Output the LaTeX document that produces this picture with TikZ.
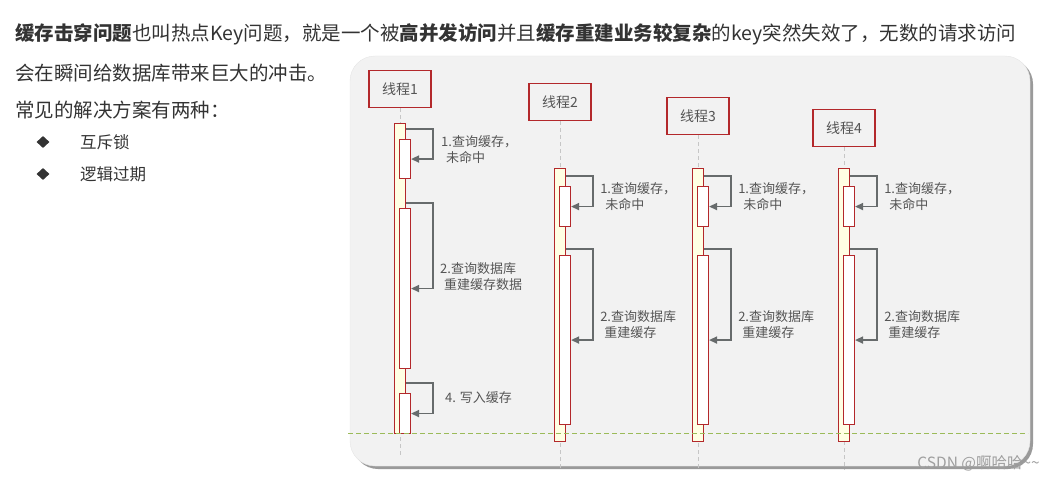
\documentclass[tikz,border=0pt]{standalone}
\usepackage{fontspec}
\setmainfont{Noto Sans CJK SC}
\usetikzlibrary{arrows.meta,shapes.geometric}

\definecolor{panelgray}{HTML}{F2F2F2}
\definecolor{shadowgray}{HTML}{9A9A9A}
\definecolor{barred}{HTML}{B3282B}
\definecolor{baryellow}{HTML}{FFFFE3}
\definecolor{loopgray}{HTML}{676B6C}
\definecolor{labelgray}{HTML}{555555}
\definecolor{textgray}{HTML}{333333}
\definecolor{lineolive}{HTML}{9BBB59}

\tikzset{
  thread/.style={draw=barred, line width=1.3pt, fill=panelgray, minimum width=62pt,
    minimum height=37pt, inner sep=0pt, anchor=north, text=labelgray,
    font=\fontsize{14}{16}\selectfont},
  lifeline/.style={draw=gray!45, line width=0.9pt, dash pattern=on 4pt off 3pt},
  bar/.style={draw=barred, line width=1.1pt, fill=baryellow, minimum width=11pt,
    inner sep=0pt, anchor=north},
  act/.style={draw=barred, line width=1.1pt, fill=white, minimum width=11pt,
    inner sep=0pt, anchor=north},
  selfmsg/.style={draw=loopgray, line width=1.6pt, -{Triangle[length=8pt,width=7pt]}},
  msglabel/.style={anchor=north west, align=left, inner sep=0pt, text=labelgray,
    font=\fontsize{13}{16}\selectfont},
  intro/.style={anchor=west, inner sep=0pt, text=textgray,
    font=\fontsize{19.5}{22}\selectfont},
}

\begin{document}
\begin{tikzpicture}[x=1pt, y=-1pt]
\useasboundingbox (0,0) rectangle (1054,481);

% Draw the text on the left
\node[intro] (line1) at (15,34) {\textbf{缓存击穿问题}也叫热点Key问题，就是一个被\textbf{高并发访问}并且\textbf{缓存重建业务较复杂}的key突然失效了，无数的请求访问};
\node[intro] (line2) at (15,73) {会在瞬间给数据库带来巨大的冲击。};
\node[intro] (line3) at (15,110) {常见的解决方案有两种：};
\node[diamond, fill=textgray, minimum width=13pt, minimum height=12pt, inner sep=0pt] (dot1) at (43,142) {};
\node[intro, font=\fontsize{16.5}{20}\selectfont] (way1) at (80,142) {互斥锁};
\node[diamond, fill=textgray, minimum width=13pt, minimum height=12pt, inner sep=0pt] (dot2) at (43,174) {};
\node[intro, font=\fontsize{16.5}{20}\selectfont] (way2) at (80,174) {逻辑过期};

% Draw the panel
\fill[shadowgray, rounded corners=25pt] (353,59) rectangle (1033,469);
\fill[panelgray, draw=gray!20, rounded corners=25pt] (350,56) rectangle (1030,466);

% Draw the threads and lifelines
\node[thread] (th1) at (400,70) {线程1};
\node[thread] (th2) at (560,83) {线程2};
\node[thread] (th3) at (698,97) {线程3};
\node[thread] (th4) at (844,109) {线程4};
\draw[lifeline] (th1.south) -- (th1.south |- 0,455);
\foreach \i in {2,3,4}
  \draw[lifeline] (th\i.south) -- (th\i.south |- 0,470);

% Thread 1
\node[bar, minimum height=310pt] (bar1) at (400,123) {};
\node[act, minimum height=39pt] (a11) at (405,139) {};
\node[act, minimum height=160pt] (a12) at (405,208) {};
\node[act, minimum height=40pt] (a14) at (405,393) {};
\draw[selfmsg] (bar1.east |- 0,129) -- ++(27,0) |- (a11.east);
\draw[selfmsg] (bar1.east |- 0,203) -- ++(27,0) |- (a12.east);
\draw[selfmsg] (bar1.east |- 0,383) -- ++(27,0) |- (a14.east);
\node[msglabel] (m11) at (441,135) {1.查询缓存，\\\hspace*{5pt}未命中};
\node[msglabel] (m12) at (440,262) {2.查询数据库\\\hspace*{4pt}重建缓存数据};
\node[msglabel] (m14) at (445,391) {4. 写入缓存};

% Threads 2 to 4
\foreach \i in {2,3,4} {
  \node[bar, minimum height=273pt] (bar\i) at (th\i.south |- 0,168) {};
  \node[act, minimum height=40pt] (a\i1) at ([xshift=5pt]bar\i.north |- 0,186) {};
  \node[act, minimum height=169pt] (a\i2) at ([xshift=5pt]bar\i.north |- 0,255) {};
  \draw[selfmsg] (bar\i.east |- 0,176) -- ++(27,0) coordinate (r\i) |- (a\i1.east);
  \draw[selfmsg] (bar\i.east |- 0,249) -- ++(27,0) |- (a\i2.east);
  \node[msglabel] (m\i1) at ([xshift=7pt]r\i |- 0,182) {1.查询缓存，\\\hspace*{5pt}未命中};
  \node[msglabel] (m\i2) at ([xshift=7pt]r\i |- 0,310) {2.查询数据库\\\hspace*{4pt}重建缓存};
}

% Draw the dashed cut line
\draw[lineolive, line width=0.9pt, dash pattern=on 5pt off 3pt] (348,433) -- (1028,433);

% Watermark
\node[anchor=east, inner sep=0pt, text=gray!75, font=\fontsize{15.5}{17}\selectfont] (mark) at (1040,463) {CSDN @啊哈哈\textasciitilde\textasciitilde};
\end{tikzpicture}
\end{document}
